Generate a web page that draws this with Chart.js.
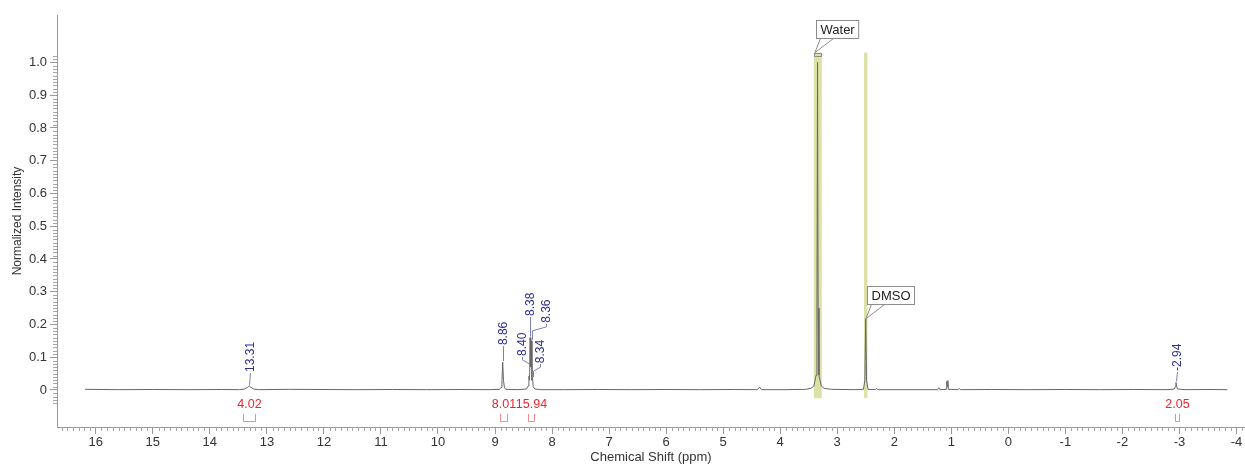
<!DOCTYPE html>
<html>
<head>
<meta charset="utf-8">
<title>1H NMR spectrum</title>
<script src="https://cdn.jsdelivr.net/npm/chart.js@4.4.1/dist/chart.umd.min.js"></script>
<style>
  body { margin: 0; background: #fff; }
  #wrap { width: 1245px; height: 466px; }
</style>
</head>
<body>
<div id="wrap"><canvas id="nmrChart" width="1245" height="466"></canvas></div>
<script>
// spectrum: chemical shift (ppm) and normalized intensity
const shiftPpm = [
  16.19, 15.60, 15.00, 14.40, 13.80, 13.48, 13.39, 13.34, 13.31, 13.28, 13.23, 13.15,
  12.60, 12.00, 11.40, 10.80, 10.20, 9.60, 9.10,
  8.92, 8.895, 8.878, 8.865, 8.852, 8.835, 8.81, 8.60,
  8.45, 8.42, 8.405, 8.395, 8.385, 8.373, 8.362, 8.352, 8.343, 8.33, 8.30, 8.20,
  7.80, 7.20, 6.60, 6.00, 5.40, 4.80, 4.40, 4.36, 4.33, 3.90,
  3.55, 3.46, 3.41, 3.37, 3.355, 3.345, 3.335, 3.32, 3.28, 3.23, 3.10, 2.70,
  2.54, 2.515, 2.500, 2.485, 2.46, 2.33, 2.31, 2.29, 1.60,
  1.24, 1.22, 1.20, 1.09, 1.08, 1.07, 1.06, 1.05, 0.88, 0.86, 0.84,
  0.30, -0.40, -1.00, -1.60, -2.20, -2.80,
  -2.91, -2.93, -2.94, -2.95, -2.97, -3.10, -3.50, -3.84
];
const intensity = [
  0.002, 0.001, 0.0015, 0.001, 0.0015, 0.001, 0.003, 0.008, 0.013, 0.008, 0.003, 0.001,
  0.002, 0.0015, 0.001, 0.0015, 0.001, 0.0015, 0.001,
  0.002, 0.008, 0.030, 0.085, 0.030, 0.008, 0.002, 0.001,
  0.003, 0.012, 0.042, 0.030, 0.160, 0.070, 0.150, 0.030, 0.036, 0.010, 0.003, 0.001,
  0.001, 0.0015, 0.001, 0.0015, 0.001, 0.0015, 0.001, 0.009, 0.001, 0.001,
  0.002, 0.005, 0.012, 0.045, 0.250, 1.000, 0.250, 0.045, 0.012, 0.005, 0.002, 0.001,
  0.002, 0.030, 0.217, 0.030, 0.002, 0.001, 0.005, 0.001, 0.001,
  0.001, 0.007, 0.001, 0.002, 0.026, 0.010, 0.029, 0.002, 0.001, 0.005, 0.001,
  0.0015, 0.001, 0.0015, 0.001, 0.0015, 0.001,
  0.003, 0.010, 0.023, 0.010, 0.003, 0.001, 0.0015, 0.001
];

// peak picking labels
const peakShifts = [13.31, 8.86, 8.40, 8.38, 8.36, 8.34, -2.94];
const peakLabels = ['13.31', '8.86', '8.40', '8.38', '8.36', '8.34', '-2.94'];

// integrals
const integralFrom = [13.42, 8.91, 8.43, -2.92];
const integralTo = [13.20, 8.79, 8.31, -2.99];
const integralValues = ['4.02', '8.01', '15.94', '2.05'];

// solvent peaks
const solventNames = ['Water', 'DMSO'];
const solventShifts = [3.34, 2.50];

const xTickValues = [16, 15, 14, 13, 12, 11, 10, 9, 8, 7, 6, 5, 4, 3, 2, 1, 0, -1, -2, -3, -4];
const yTickValues = [0, 0.1, 0.2, 0.3, 0.4, 0.5, 0.6, 0.7, 0.8, 0.9, 1.0];

// where the rotated peak labels sit (text x in ppm, text foot in intensity)
const labelLayout = [
  { at: 13.30, foot: 0.055 },
  { at: 8.86, foot: 0.137 },
  { at: 8.53, foot: 0.104 },
  { at: 8.385, foot: 0.226 },
  { at: 8.11, foot: 0.205 },
  { at: 8.22, foot: 0.082 },
  { at: -2.955, foot: 0.058 }
];
const solventBand = [0.07, 0.03];
const calloutAnchorY = [1.03, 0.217];

const FONT = '"Liberation Sans", Arial, sans-serif';
const labelBlue = '#2e3192';
const integralRed = '#e8262f';

const points = shiftPpm.map((s, i) => ({ x: s, y: intensity[i] }));

function valueAt(ppm) {
  let best = 0;
  shiftPpm.forEach((s, i) => {
    if (Math.abs(s - ppm) < Math.abs(shiftPpm[best] - ppm)) best = i;
  });
  return intensity[best];
}

const nmrDecor = {
  id: 'nmrDecor',
  beforeDatasetsDraw(chart) {
    const { ctx, scales: { x, y } } = chart;
    ctx.save();
    ctx.fillStyle = '#dde1a6';
    solventShifts.forEach((s, i) => {
      const l = x.getPixelForValue(s + solventBand[i]);
      const r = x.getPixelForValue(s - solventBand[i]);
      const t = y.getPixelForValue(1.03);
      const b = y.getPixelForValue(-0.025);
      ctx.fillRect(l, t, r - l, b - t);
    });
    ctx.restore();
  },
  afterDatasetsDraw(chart) {
    const { ctx, scales: { x, y } } = chart;
    ctx.save();

    // peak labels with leader lines
    ctx.font = '12px ' + FONT;
    ctx.lineWidth = 1;
    peakShifts.forEach((s, i) => {
      const lx = Math.round(x.getPixelForValue(labelLayout[i].at)) + 0.5;
      const foot = y.getPixelForValue(labelLayout[i].foot);
      const peakX = Math.round(x.getPixelForValue(s)) + 0.5;
      const peakY = y.getPixelForValue(valueAt(s));
      ctx.strokeStyle = '#7c80b4';
      ctx.beginPath();
      ctx.moveTo(lx, foot + 1);
      if (Math.abs(lx - peakX) > 2) {
        ctx.lineTo(lx, foot + 4);
        ctx.lineTo(peakX, foot + 8);
      }
      ctx.lineTo(peakX, peakY - 1);
      ctx.stroke();

      ctx.save();
      ctx.translate(lx, foot);
      ctx.rotate(-Math.PI / 2);
      ctx.fillStyle = labelBlue;
      ctx.textAlign = 'left';
      ctx.textBaseline = 'middle';
      ctx.fillText(peakLabels[i], 0, 0);
      ctx.restore();
    });

    // integrals
    integralValues.forEach((v, i) => {
      const l = Math.round(x.getPixelForValue(integralFrom[i])) + 0.5;
      const r = Math.round(x.getPixelForValue(integralTo[i])) + 0.5;
      const mid = (l + r) / 2;
      ctx.fillStyle = integralRed;
      ctx.font = '12.5px ' + FONT;
      ctx.textAlign = 'center';
      ctx.textBaseline = 'middle';
      ctx.fillText(v, mid, 405);
      ctx.strokeStyle = '#f08a8f';
      ctx.beginPath();
      ctx.moveTo(l, 414);
      ctx.lineTo(l, 421.5);
      ctx.lineTo(r, 421.5);
      ctx.lineTo(r, 414);
      ctx.stroke();
    });

    // solvent callouts
    ctx.font = '13px ' + FONT;
    solventNames.forEach((name, i) => {
      const s = solventShifts[i];
      const ax = i === 0 ? x.getPixelForValue(s + solventBand[i]) + 1 : x.getPixelForValue(s);
      const ay = y.getPixelForValue(calloutAnchorY[i]);
      const w = ctx.measureText(name).width + 8;
      const bx = Math.round(ax) + 1.5;
      const by = Math.round(ay - 33) + 0.5;
      ctx.fillStyle = '#fff';
      ctx.strokeStyle = '#8c8c8c';
      ctx.fillRect(bx, by, w, 18);
      ctx.strokeRect(bx, by, w, 18);
      ctx.beginPath();
      ctx.moveTo(bx + 4, by + 18);
      ctx.lineTo(ax, ay);
      ctx.lineTo(bx + 17, by + 18);
      ctx.stroke();
      if (i === 0) {
        const r = x.getPixelForValue(s - solventBand[i]);
        ctx.strokeRect(Math.round(ax - 1) + 0.5, Math.round(ay) + 0.5, Math.round(r - ax), 3);
      }
      ctx.fillStyle = '#222';
      ctx.textAlign = 'left';
      ctx.textBaseline = 'middle';
      ctx.fillText(name, bx + 4, by + 9.5);
    });
    ctx.restore();
  },
  afterDraw(chart) {
    const { ctx, scales: { x, y } } = chart;
    ctx.save();
    ctx.strokeStyle = '#a6a6a6';
    ctx.lineWidth = 1;
    ctx.beginPath();
    for (let i = Math.ceil(x.min * 10); i <= Math.floor(x.max * 10); i++) {
      if (i % 10 === 0) continue;
      const px = Math.round(x.getPixelForValue(i / 10)) + 0.5;
      ctx.moveTo(px, x.top);
      ctx.lineTo(px, x.top + 4);
    }
    for (let i = -4; i <= 102; i++) {
      if (i % 10 === 0 && i >= 0 && i <= 100) continue;
      const py = Math.round(y.getPixelForValue(i / 100)) + 0.5;
      ctx.moveTo(y.right - 4, py);
      ctx.lineTo(y.right, py);
    }
    ctx.stroke();
    ctx.restore();
  }
};

new Chart('nmrChart', {
  type: 'line',
  data: {
    datasets: [{
      data: points,
      borderColor: '#666',
      borderWidth: 1,
      pointRadius: 0,
      tension: 0,
      fill: false
    }]
  },
  options: {
    responsive: false,
    animation: false,
    devicePixelRatio: 1,
    layout: { padding: { top: 15, right: 0, left: 0, bottom: 0 } },
    plugins: {
      legend: { display: false },
      tooltip: { enabled: false }
    },
    scales: {
      x: {
        type: 'linear',
        reverse: true,
        min: -4.15,
        max: 16.68,
        afterBuildTicks: (scale) => { scale.ticks = xTickValues.map(v => ({ value: v })); },
        afterFit: (scale) => { scale.height = 39; },
        border: { display: true, color: '#999' },
        grid: { drawOnChartArea: false, drawTicks: true, tickLength: 7, color: '#999' },
        ticks: {
          autoSkip: false,
          maxRotation: 0,
          padding: 1,
          color: '#333',
          font: { size: 13, family: FONT },
          callback: (v) => String(v)
        },
        title: {
          display: true,
          text: 'Chemical Shift (ppm)',
          color: '#333',
          font: { size: 13, family: FONT },
          padding: { top: 0, bottom: 1 }
        }
      },
      y: {
        type: 'linear',
        min: -0.113,
        max: 1.145,
        afterBuildTicks: (scale) => { scale.ticks = yTickValues.map(v => ({ value: v })); },
        afterFit: (scale) => { scale.width = 57; },
        border: { display: true, color: '#999' },
        grid: { drawOnChartArea: false, drawTicks: true, tickLength: 7, color: '#999' },
        ticks: {
          padding: 3,
          color: '#333',
          font: { size: 13, family: FONT },
          callback: (v) => (v === 0 ? '0' : v.toFixed(1))
        },
        title: {
          display: true,
          text: 'Normalized Intensity',
          color: '#333',
          font: { size: 12, family: FONT },
          padding: { top: 10, bottom: 0 }
        }
      }
    }
  },
  plugins: [nmrDecor]
});
</script>
</body>
</html>
